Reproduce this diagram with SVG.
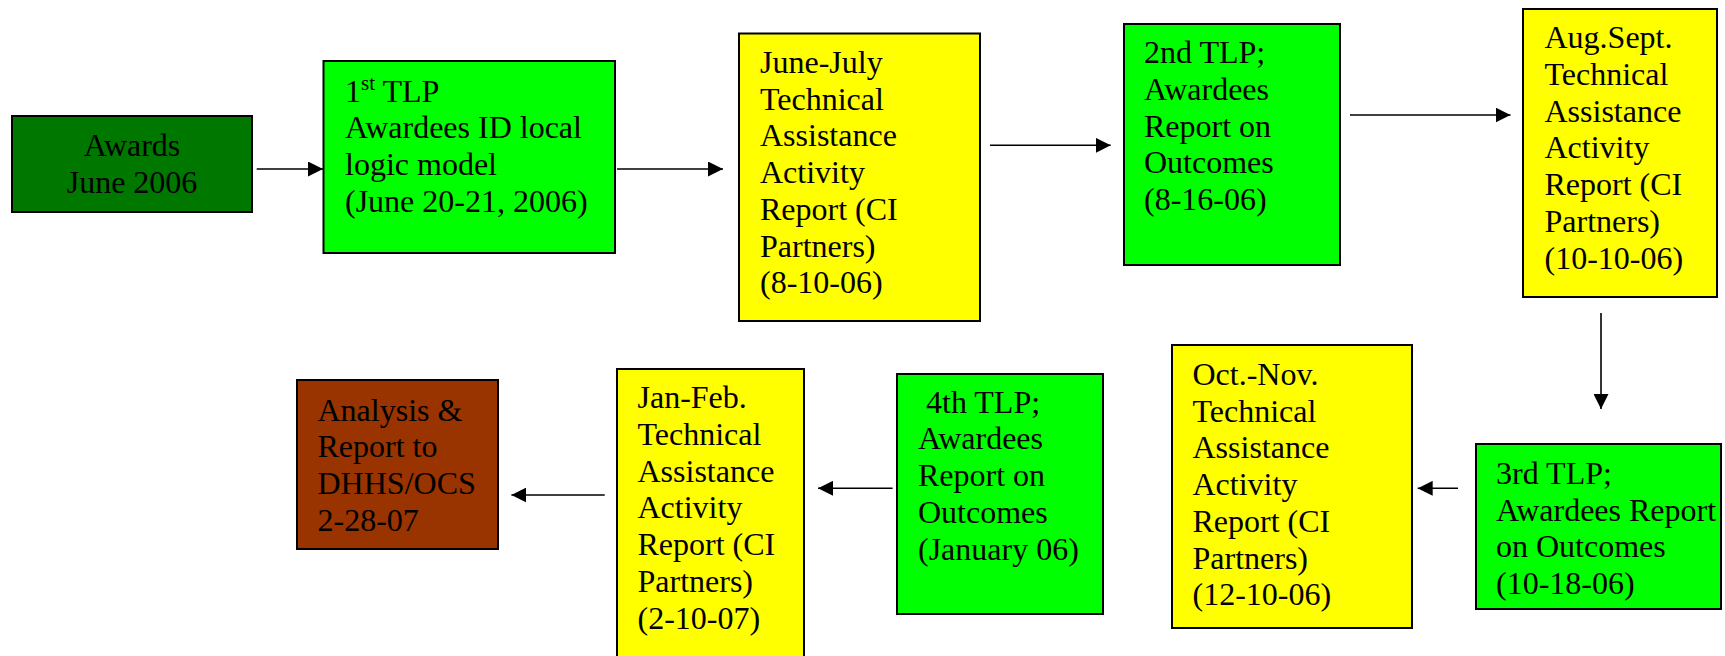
<svg xmlns="http://www.w3.org/2000/svg" width="1725" height="656" viewBox="0 0 1725 656">
  <style>
    .box { stroke: #000; stroke-width: 2; }
    .dkgreen { fill: #007800; }
    .green { fill: #00FF00; }
    .yellow { fill: #FFFF00; }
    .brown { fill: #993300; }
    text { font-family: "Liberation Serif", "Times New Roman", serif; font-size: 32px; fill: #000; }
    .sup { font-size: 21px; }
    .conn { stroke: #000; stroke-width: 1.6; fill: none; marker-end: url(#arrow); }
  </style>
  <defs>
    <marker id="arrow" markerUnits="userSpaceOnUse" markerWidth="15" markerHeight="15" refX="15" refY="7.5" orient="auto">
      <path d="M0,0 L15,7.5 L0,15 Z" fill="#000"/>
    </marker>
  </defs>
  <rect width="1725" height="656" fill="#fff"/>

  <g id="awards">
    <rect class="box dkgreen" x="12" y="116" width="240" height="96"/>
    <text x="132" y="156" text-anchor="middle">Awards</text>
    <text x="132" y="192.7" text-anchor="middle">June 2006</text>
  </g>

  <g id="tlp1">
    <rect class="box green" x="323.5" y="61" width="291.5" height="192"/>
    <text x="345" y="101.7">1<tspan class="sup" dy="-12">st</tspan><tspan dy="12"> TLP</tspan></text>
    <text x="345" y="138.4">Awardees ID local</text>
    <text x="345" y="175.1">logic model</text>
    <text x="345" y="211.8">(June 20-21, 2006)</text>
  </g>

  <g id="ta-june-july">
    <rect class="box yellow" x="739" y="33.5" width="241" height="287.5"/>
    <text x="760" y="73">June-July</text>
    <text x="760" y="109.7">Technical</text>
    <text x="760" y="146.4">Assistance</text>
    <text x="760" y="183.1">Activity</text>
    <text x="760" y="219.8">Report (CI</text>
    <text x="760" y="256.5">Partners)</text>
    <text x="760" y="293.2">(8-10-06)</text>
  </g>

  <g id="tlp2">
    <rect class="box green" x="1124" y="24" width="216" height="241"/>
    <text x="1144" y="63.3">2nd TLP;</text>
    <text x="1144" y="100">Awardees</text>
    <text x="1144" y="136.7">Report on</text>
    <text x="1144" y="173.4">Outcomes</text>
    <text x="1144" y="210.1">(8-16-06)</text>
  </g>

  <g id="ta-aug-sept">
    <rect class="box yellow" x="1523" y="9" width="194" height="288"/>
    <text x="1544.5" y="48.3">Aug.Sept.</text>
    <text x="1544.5" y="85">Technical</text>
    <text x="1544.5" y="121.7">Assistance</text>
    <text x="1544.5" y="158.4">Activity</text>
    <text x="1544.5" y="195.1">Report (CI</text>
    <text x="1544.5" y="231.8">Partners)</text>
    <text x="1544.5" y="268.5">(10-10-06)</text>
  </g>

  <g id="tlp3">
    <rect class="box green" x="1476" y="444" width="245" height="165"/>
    <text x="1496" y="484">3rd TLP;</text>
    <text x="1496" y="520.7">Awardees Report</text>
    <text x="1496" y="557.4">on Outcomes</text>
    <text x="1496" y="594.1">(10-18-06)</text>
  </g>

  <g id="ta-oct-nov">
    <rect class="box yellow" x="1172" y="345" width="240" height="283"/>
    <text x="1192.5" y="385">Oct.-Nov.</text>
    <text x="1192.5" y="421.7">Technical</text>
    <text x="1192.5" y="458.4">Assistance</text>
    <text x="1192.5" y="495.1">Activity</text>
    <text x="1192.5" y="531.8">Report (CI</text>
    <text x="1192.5" y="568.5">Partners)</text>
    <text x="1192.5" y="605.2">(12-10-06)</text>
  </g>

  <g id="tlp4">
    <rect class="box green" x="897" y="374" width="206" height="240"/>
    <text x="926" y="412.7">4th TLP;</text>
    <text x="918" y="449.4">Awardees</text>
    <text x="918" y="486.1">Report on</text>
    <text x="918" y="522.8">Outcomes</text>
    <text x="918" y="559.5">(January 06)</text>
  </g>

  <g id="ta-jan-feb">
    <rect class="box yellow" x="617" y="369" width="187" height="300"/>
    <text x="637.5" y="408.3">Jan-Feb.</text>
    <text x="637.5" y="445">Technical</text>
    <text x="637.5" y="481.7">Assistance</text>
    <text x="637.5" y="518.4">Activity</text>
    <text x="637.5" y="555.1">Report (CI</text>
    <text x="637.5" y="591.8">Partners)</text>
    <text x="637.5" y="628.5">(2-10-07)</text>
  </g>

  <g id="analysis">
    <rect class="box brown" x="297" y="380" width="201" height="169"/>
    <text x="317.5" y="420.7">Analysis &amp;</text>
    <text x="317.5" y="457.4">Report to</text>
    <text x="317.5" y="494.1">DHHS/OCS</text>
    <text x="317.5" y="530.8">2-28-07</text>
  </g>

  <g id="connectors">
    <line class="conn" x1="256.7" y1="169" x2="323" y2="169"/>
    <line class="conn" x1="617" y1="169" x2="723" y2="169"/>
    <line class="conn" x1="990" y1="145.3" x2="1110.7" y2="145.3"/>
    <line class="conn" x1="1350" y1="115" x2="1510.5" y2="115"/>
    <line class="conn" x1="1601" y1="313" x2="1601" y2="409"/>
    <line class="conn" x1="1458" y1="488.3" x2="1417.7" y2="488.3"/>
    <line class="conn" x1="892.6" y1="488.3" x2="818" y2="488.3"/>
    <line class="conn" x1="604.7" y1="495" x2="511.4" y2="495"/>
  </g>
</svg>
